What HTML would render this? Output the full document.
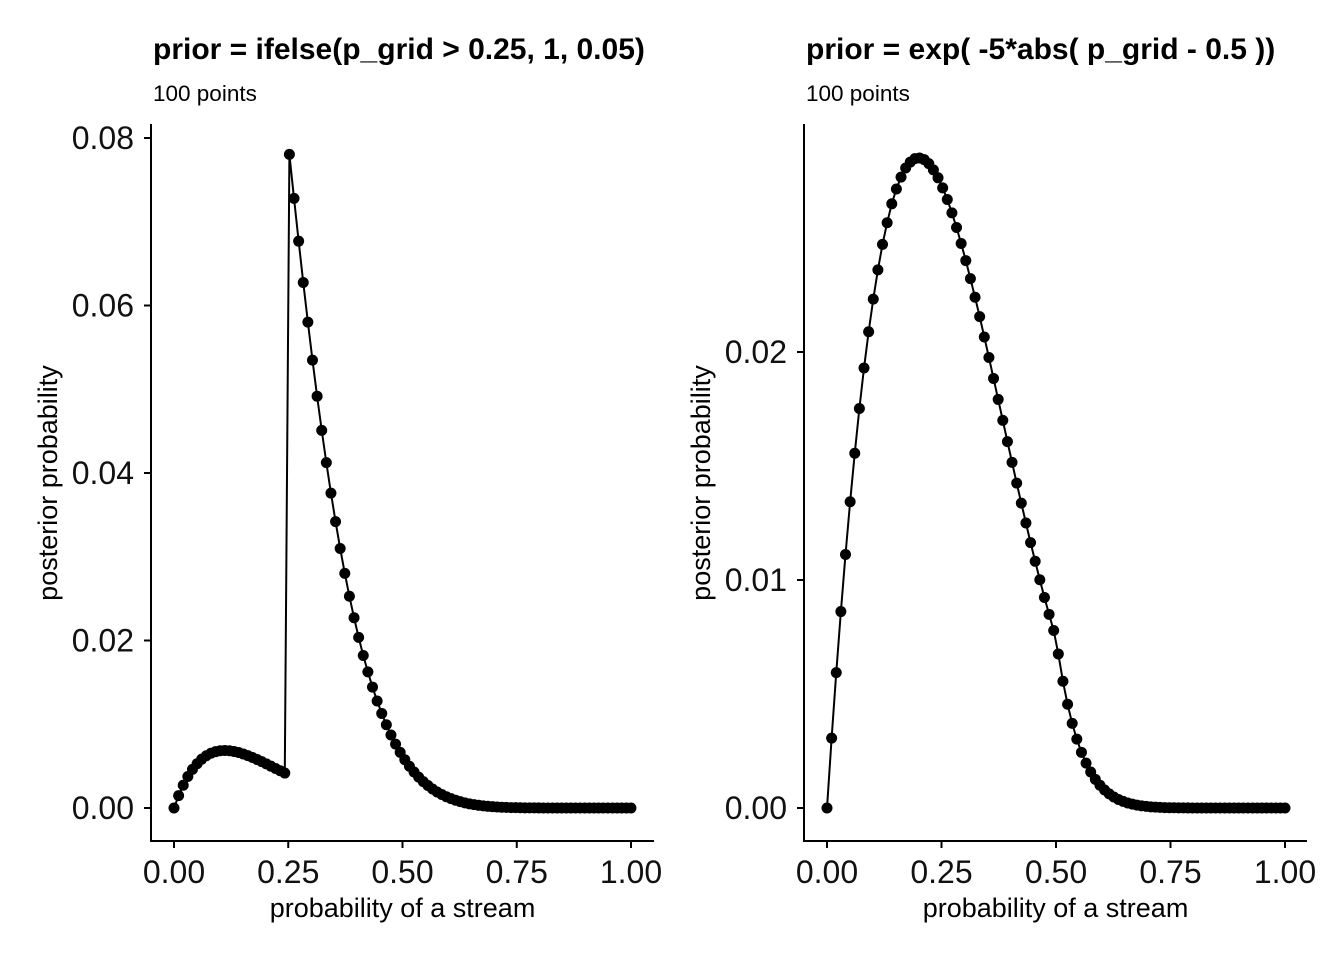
<!DOCTYPE html>
<html>
<head>
<meta charset="utf-8">
<style>
  html,body{margin:0;padding:0;background:#fff;}
  svg{display:block;font-family:"Liberation Sans",Arial,sans-serif;}
  .tick{font-size:32px;fill:#111;}
  .ttl{font-size:30px;font-weight:bold;fill:#000;}
  .sub{font-size:22.5px;fill:#000;}
  .axt{font-size:27px;fill:#000;}
</style>
</head>
<body>
<svg id="chart" width="1344" height="960" viewBox="0 0 1344 960"></svg>
<script>
// ---- data ----
const pointCount = 100;
const leftTitle = "prior = ifelse(p_grid > 0.25, 1, 0.05)";
const rightTitle = "prior = exp( -5*abs( p_grid - 0.5 ))";
const subtitleText = "100 points";
const xTickValues = [0, 0.25, 0.5, 0.75, 1];
const xTickLabels = ["0.00", "0.25", "0.50", "0.75", "1.00"];
const leftYTickValues = [0, 0.02, 0.04, 0.06, 0.08];
const leftYTickLabels = ["0.00", "0.02", "0.04", "0.06", "0.08"];
const rightYTickValues = [0, 0.01, 0.02];
const rightYTickLabels = ["0.00", "0.01", "0.02"];
const leftPosterior = [
0,0.001476,0.002720,0.003756,0.004607,0.005291,0.005829,0.006237,0.006533,0.006725,
0.006832,0.006866,0.006837,0.006750,0.006626,0.006454,0.006254,0.006031,0.005788,0.005532,
0.005265,0.004994,0.004719,0.004443,0.004172,0.07804,0.07279,0.06768,0.06275,0.05801,
0.05348,0.04917,0.04509,0.04124,0.03760,0.03419,0.03099,0.02802,0.02528,0.02272,
0.02037,0.01821,0.01625,0.01444,0.01278,0.01129,0.009939,0.008715,0.007622,0.006641,
0.005768,0.004989,0.004297,0.003687,0.003153,0.002682,0.002272,0.001916,0.001608,0.001342,
0.001115,0.000920,0.000756,0.000617,0.000500,0.000403,0.000322,0.000256,0.000202,0.000157,
0.000121,0.000092,0.000070,0.000052,0.000039,0.000029,0.000021,0.000015,0.000011,0.0000076,
0.0000053,0.0000036,0.0000024,0.0000016,0.000001,0.0000006,0.0000004,0.0000002,0.0000001,0,
0,0,0,0,0,0,0,0,0,0];
const rightPosterior = [
0,0.003065,0.005937,0.008616,0.01112,0.01343,0.01556,0.01752,0.01930,0.02089,
0.02232,0.02360,0.02472,0.02567,0.02650,0.02715,0.02767,0.02807,0.02833,0.02848,
0.02851,0.02844,0.02826,0.02799,0.02764,0.02720,0.02669,0.02610,0.02546,0.02476,
0.02401,0.02322,0.02240,0.02155,0.02066,0.01976,0.01884,0.01792,0.01700,0.01607,
0.01516,0.01425,0.01337,0.01250,0.01164,0.01082,0.01001,0.009235,0.008495,0.007785,
0.006757,0.005558,0.004549,0.003712,0.003019,0.002442,0.001967,0.001577,0.001258,0.000999,
0.000789,0.000619,0.000483,0.000375,0.000289,0.000222,0.000168,0.000127,0.000095,0.0000705,
0.0000518,0.000037,0.000027,0.000019,0.000013,0.000009,0.000006,0.000004,0.000003,0.000002,
0.000001,0,0,0,0,0,0,0,0,0,
0,0,0,0,0,0,0,0,0,0];

const NS = "http://www.w3.org/2000/svg";
const svg = document.getElementById("chart");
function mk(tag, attrs, parent){
  const e = document.createElementNS(NS, tag);
  for (const k in attrs) e.setAttribute(k, attrs[k]);
  (parent||svg).appendChild(e);
  return e;
}

function panel(cfg){
  const g = mk("g", {});
  
  
  const xs = v => cfg.x0 + v*(cfg.x1-cfg.x0);
  const ys = v => cfg.y0 - v/cfg.yMaxVal*(cfg.y0-cfg.yMaxPx);

  const t = mk("text", {x: cfg.axisX+2, y: 59, class: "ttl"}, g);
  t.textContent = cfg.title;
  
  
  const s = mk("text", {x: cfg.axisX+2, y: 101, class: "sub"}, g);
  s.textContent = subtitleText;
  
  

  const ya = mk("line", {x1: cfg.axisX, y1: 124, x2: cfg.axisX, y2: 842, stroke: "#000", "stroke-width": 2}, g);
  
  
  const xa = mk("line", {x1: cfg.axisX-1, y1: 841, x2: cfg.axisRight, y2: 841, stroke: "#000", "stroke-width": 2}, g);
  
  

  xTickValues.forEach((v,i)=>{
    const x = xs(v);
    mk("line", {x1:x, y1:841, x2:x, y2:848, stroke:"#000","stroke-width":2}, g);
    const tl = mk("text", {x:x, y:883, class:"tick", "text-anchor":"middle"}, g);
    tl.textContent = xTickLabels[i];
    
    
  });
  cfg.yTicks.forEach((v,i)=>{
    const y = ys(v);
    mk("line", {x1:cfg.axisX-7, y1:y, x2:cfg.axisX, y2:y, stroke:"#000","stroke-width":2}, g);
    const tl = mk("text", {x:cfg.axisX-17, y:y+11, class:"tick", "text-anchor":"end"}, g);
    tl.textContent = cfg.yLabels[i];
    
    
  });

  const xt = mk("text", {x:(cfg.axisX+cfg.axisRight)/2, y:917, class:"axt","text-anchor":"middle"}, g);
  xt.textContent = "probability of a stream";
  
  
  const yx = cfg.axisX-94, yy = 483;
  const yt = mk("text", {x:yx, y:yy, class:"axt","text-anchor":"middle", transform:`rotate(-90 ${yx} ${yy})`}, g);
  yt.textContent = "posterior probability";
  
  

  const vals = cfg.values;
  let d = "";
  vals.forEach((v,i)=>{
    const p = i/(pointCount-1);
    d += (i?"L":"M") + xs(p).toFixed(2) + "," + ys(v).toFixed(2);
  });
  const ln = mk("path", {d:d, fill:"none", stroke:"#000", "stroke-width":2}, g);
  
  
  vals.forEach((v,i)=>{
    const p = i/(pointCount-1);
    const c = mk("circle", {cx:xs(p), cy:ys(v), r:5.5, fill:"#000"}, g);
    
    
  });
}

panel({name:"left-panel", title:leftTitle, values:leftPosterior, axisX:151, axisRight:654,
  x0:174, x1:631, y0:808, yMaxPx:138, yMaxVal:0.08, yTicks:leftYTickValues, yLabels:leftYTickLabels});
panel({name:"right-panel", title:rightTitle, values:rightPosterior, axisX:804, axisRight:1307,
  x0:827, x1:1285, y0:808, yMaxPx:352, yMaxVal:0.02, yTicks:rightYTickValues, yLabels:rightYTickLabels});
</script>
</body>
</html>
